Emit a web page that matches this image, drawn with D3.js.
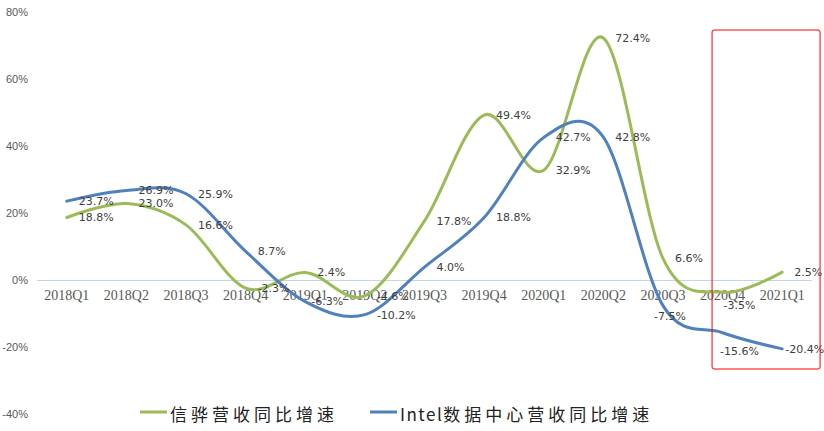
<!DOCTYPE html>
<html>
<head>
<meta charset="utf-8">
<script src="https://cdn.jsdelivr.net/npm/d3@7"></script>
<style>
  body { margin: 0; background: #fff; }
  svg { display: block; }
</style>
</head>
<body>
<svg width="824" height="431"></svg>
<script>
const quarters = ["2018Q1","2018Q2","2018Q3","2018Q4","2019Q1","2019Q2","2019Q3","2019Q4","2020Q1","2020Q2","2020Q3","2020Q4","2021Q1"]
const aspeed = [18.8, 23.0, 16.6, -2.3, 2.4, -4.6, 17.8, 49.4, 32.9, 72.4, 6.6, -3.5, 2.5]
const intelDC = [23.7, 26.9, 25.9, 8.7, -6.3, -10.2, 4.0, 18.8, 42.7, 42.8, -7.5, -15.6, -20.4]
const yTicks = [80, 60, 40, 20, 0, -20, -40]
const seriesNames = ["信骅营收同比增速", "Intel数据中心营收同比增速"]

const svg = d3.select("svg")

const x = d3.scalePoint()
  .domain(quarters)
  .range([37, 812])
  .padding(0.5)

const y = d3.scaleLinear()
  .domain([-40, 80])
  .range([414.5, 12.5])

// y labels
svg.append("g")
  .selectAll("text")
  .data(yTicks)
  .enter()
  .append("text")
  .attr("x", 28)
  .attr("y", d => y(d))
  .attr("dy", "0.35em")
  .attr("text-anchor", "end")
  .style("font-family", "Liberation Sans, Arial, sans-serif")
  .style("font-size", "11px")
  .style("fill", "#595959")
  .text(d => d + "%")

// zero line
svg.append("line")
  .attr("x1", 37).attr("x2", 812)
  .attr("y1", y(0)).attr("y2", y(0))
  .style("stroke", "#c3d5e8")
  .style("stroke-width", "1px")

// category labels
svg.append("g")
  .selectAll("text")
  .data(quarters)
  .enter()
  .append("text")
  .attr("x", d => x(d))
  .attr("y", y(0) + 15)
  .attr("dy", "0.35em")
  .attr("text-anchor", "middle")
  .style("font-family", "Liberation Serif, Times New Roman, serif")
  .style("font-size", "14px")
  .style("fill", "#595959")
  .text(d => d)

const series = [
  { name: seriesNames[0], values: aspeed, color: "#9bbb59" },
  { name: seriesNames[1], values: intelDC, color: "#4f81bd" }
]

const line = d3.line()
  .x((d, i) => x(quarters[i]))
  .y(d => y(d))
  .curve(d3.curveCardinal.tension(0))

svg.selectAll("path.series")
  .data(series)
  .enter()
  .append("path")
  .attr("class", "series")
  .attr("d", d => line(d.values))
  .style("fill", "none")
  .style("stroke", d => d.color)
  .style("stroke-width", "3px")
  .style("stroke-linecap", "round")

// label nudges (series index - point index), default is right of point
const nudge = {
  "0-11": [17, 13, "middle"],
  "1-10": [7, 11, "middle"],
  "1-11": [17, 18, "middle"],
  "1-12": [3, 0, "start"],
  "1-4": [6, 0, "start"]
}

series.forEach((s, si) => {
  svg.append("g")
    .selectAll("text")
    .data(s.values)
    .enter()
    .append("text")
    .attr("x", (d, i) => x(quarters[i]) + (nudge[si + "-" + i] ? nudge[si + "-" + i][0] : 12))
    .attr("y", (d, i) => y(d) + (nudge[si + "-" + i] ? nudge[si + "-" + i][1] : 0))
    .attr("dy", "0.35em")
    .attr("text-anchor", (d, i) => nudge[si + "-" + i] ? nudge[si + "-" + i][2] : "start")
    .style("font-family", "DejaVu Sans, sans-serif")
    .style("font-size", "11px")
    .style("fill", "#404040")
    .text(d => d.toFixed(1) + "%")
})

// highlight box
svg.append("rect")
  .attr("x", x("2020Q4") - 10.5)
  .attr("y", 30)
  .attr("width", 108)
  .attr("height", 339)
  .attr("rx", 2)
  .style("fill", "none")
  .style("stroke", "#ff0000")
  .style("stroke-width", "1px")

// legend
const legend = svg.append("g")
const legX = [140, 370]
series.forEach((s, i) => {
  legend.append("line")
    .attr("x1", legX[i]).attr("x2", legX[i] + 27)
    .attr("y1", 412).attr("y2", 412)
    .style("stroke", s.color)
    .style("stroke-width", "3px")
  const t = legend.append("text")
    .attr("x", legX[i] + 30)
    .attr("y", 415)
    .attr("dy", "0.35em")
    .style("font-family", "Noto Sans CJK SC, sans-serif")
    .style("font-size", "17px")
    .style("fill", "#222")
  // latin part spaced tighter than the CJK part
  const m = s.name.match(/^([A-Za-z]*)(.*)$/)
  if (m[1]) t.append("tspan").style("letter-spacing", "1.5px").text(m[1])
  t.append("tspan").style("letter-spacing", "4px").text(m[2])
})
</script>
</body>
</html>
